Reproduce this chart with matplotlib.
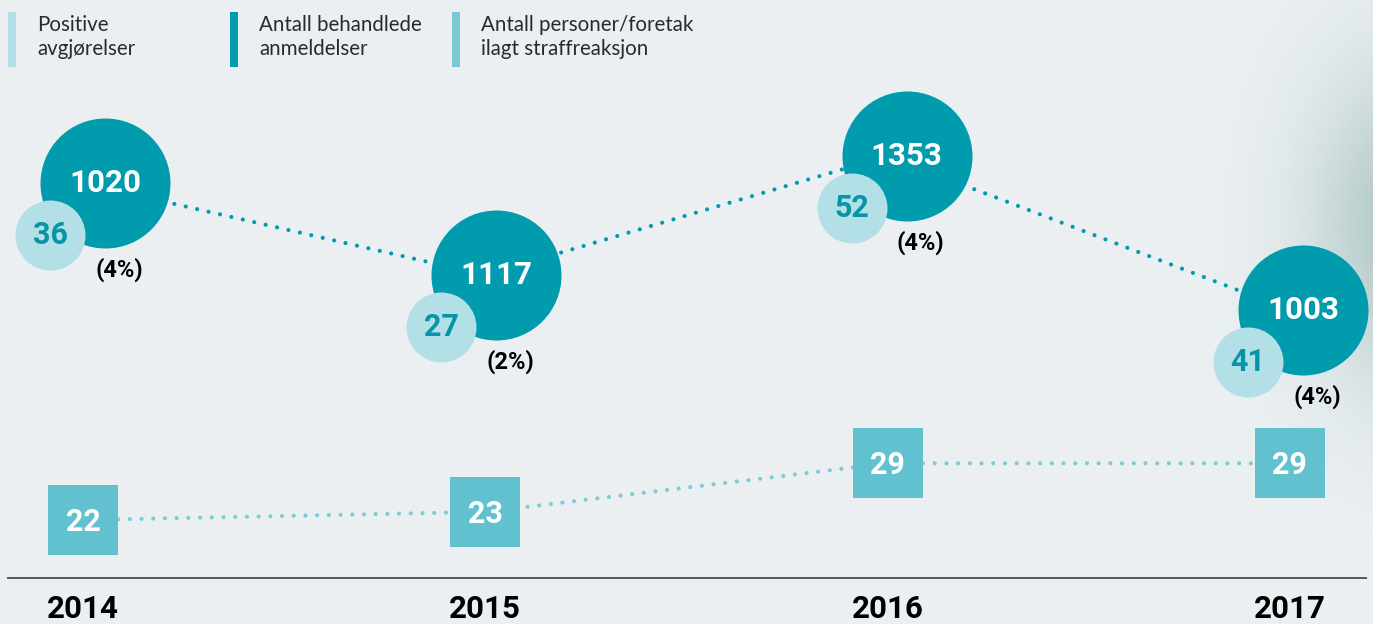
import numpy as np
import matplotlib.pyplot as plt

years = [2014, 2015, 2016, 2017]
behandlede = [1020, 1117, 1353, 1003]
positive = [36, 27, 52, 41]
andel = ['(4%)', '(2%)', '(4%)', '(4%)']
ilagt = [22, 23, 29, 29]

legend_labels = ['Positive\navgjørelser', 'Antall behandlede\nanmeldelser',
                 'Antall personer/foretak\nilagt straffreaksjon']

# layout (pixel rows) for the bubble group of each year
bubble_row = [183, 275, 156, 310]

c_big = '#009bad'
c_small = '#b3dfe7'
c_square = '#62c1cf'
c_dot_sq = '#7ccbd6'

W, H = 1373, 624
fig = plt.figure(figsize=(W / 100, H / 100), dpi=100)
ax = fig.add_axes([0, 0, 1, 1])

# background with soft shadow at the right edge
xx, yy = np.meshgrid(np.linspace(0, W, 400), np.linspace(0, H, 200))
base = np.array([0.922, 0.941, 0.949])
shade = np.array([0.55, 0.68, 0.67])
d = np.sqrt(((xx - 1410) / 100) ** 2 + ((yy - 225) / 160) ** 2)
wgt = np.clip(np.exp(-d ** 2), 0, 1)[..., None] * 0.6
img = base * (1 - wgt) + shade * wgt
x0 = 2014 - 83 / 402.3
x1 = 2014 + (W - 83) / 402.3
ax.imshow(img, extent=[x0, x1, H, 0], aspect='auto', zorder=0)
ax.set_xlim(x0, x1)
ax.set_ylim(H, 0)
ax.axis('off')

fb = 'Roboto'
dots = (0, (0.01, 2.8))

# dotted line between big bubbles
ax.plot(years, bubble_row, color=c_big, lw=3, linestyle=dots,
        dash_capstyle='round', zorder=1)

big_off = [22, 11, 19, 13]
dx = 55 / 402.3
bx = [y + o / 402.3 for y, o in zip(years, big_off)]
ax.scatter(bx, bubble_row, s=(2 * 65 * 0.72) ** 2, color=c_big, lw=0, zorder=2)
sx = [b - dx for b in bx]
sy = [r + 52 for r in bubble_row]
ax.scatter(sx, sy, s=(2 * 35 * 0.72) ** 2, color=c_small, lw=0, zorder=3)

for i in range(len(years)):
    ax.text(bx[i], bubble_row[i], str(behandlede[i]), color='white', fontsize=22.5,
            fontweight='bold', family=fb, ha='center', va='center', zorder=4)
    ax.text(sx[i], sy[i], str(positive[i]), color='#0595a6', fontsize=22,
            fontweight='bold', family=fb, ha='center', va='center', zorder=4)
    ax.text(bx[i] + 14 / 402.3, bubble_row[i] + 87, andel[i], color='black',
            fontsize=17, fontweight='bold', family=fb, ha='center', va='center', zorder=4)

# squares: row follows the value
sq_row = [520 - (v - 22) * 8.1 for v in ilagt]
ax.plot(years, sq_row, color=c_dot_sq, lw=3, linestyle=dots,
        dash_capstyle='round', zorder=1)
ax.scatter(years, sq_row, s=(70 * 0.72) ** 2, marker='s', color=c_square, lw=0, zorder=2)
for i in range(len(years)):
    ax.text(years[i], sq_row[i] + 2, str(ilagt[i]), color='white', fontsize=22,
            fontweight='bold', family=fb, ha='center', va='center', zorder=4)

# baseline and year labels
ax.plot([x0 + 8 / 402.3, x0 + 1366 / 402.3], [578, 578], color='#555555', lw=1.4, zorder=1)
for y in years:
    ax.text(y, 609, str(y), color='black', fontsize=22.5, fontweight='bold', family=fb,
            ha='center', va='center')

# legend
leg_x = [8, 230, 452]
leg_c = [c_small, c_big, '#7ac8d3']
for lx, lc, lab in zip(leg_x, leg_c, legend_labels):
    ax.add_patch(plt.Rectangle((x0 + lx / 402.3, 12), 8 / 402.3, 55, color=lc, lw=0, zorder=3))
    ax.text(x0 + (lx + 29) / 402.3, 37, lab, color='#2a2a2a', fontsize=14.8,
            fontweight='normal', family='Lato', ha='left', va='center', linespacing=1.3)

fig.savefig('out.png', dpi=100)
